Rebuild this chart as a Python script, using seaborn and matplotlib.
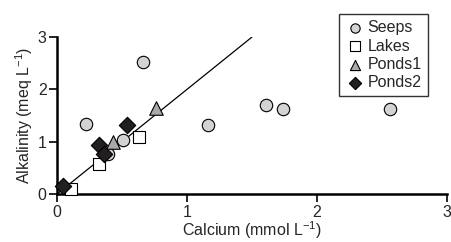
import matplotlib
matplotlib.use("Agg")
import matplotlib.pyplot as plt
import numpy as np
import pandas as pd
import seaborn as sns

# --- data ---
seeps_ca = [0.22, 0.66, 0.51, 0.39, 1.16, 1.61, 1.74, 2.56]
seeps_alk = [1.34, 2.52, 1.03, 0.76, 1.32, 1.70, 1.62, 1.62]
lakes_ca = [0.63, 0.32, 0.11]
lakes_alk = [1.09, 0.58, 0.10]
ponds1_ca = [0.76, 0.43]
ponds1_alk = [1.64, 1.00]
ponds2_ca = [0.54, 0.32, 0.36, 0.05]
ponds2_alk = [1.32, 0.93, 0.76, 0.15]
line_ca = [0.0, 1.5]
line_alk = [0.0, 3.0]

groups = ["Seeps", "Lakes", "Ponds1", "Ponds2"]
df = pd.DataFrame({
    "Calcium": seeps_ca + lakes_ca + ponds1_ca + ponds2_ca,
    "Alkalinity": seeps_alk + lakes_alk + ponds1_alk + ponds2_alk,
    "Site": (["Seeps"] * len(seeps_ca) + ["Lakes"] * len(lakes_ca)
             + ["Ponds1"] * len(ponds1_ca) + ["Ponds2"] * len(ponds2_ca)),
})

palette = {"Seeps": "#d1d3d4", "Lakes": "#ffffff",
           "Ponds1": "#a7a9ac", "Ponds2": "#231f20"}
markers = {"Seeps": "o", "Lakes": "s", "Ponds1": "^", "Ponds2": "D"}
sizes = {"Seeps": 80, "Lakes": 75, "Ponds1": 95, "Ponds2": 70}

sns.set_style("ticks")
plt.rcParams["font.family"] = ["Liberation Sans", "DejaVu Sans"]

fig = plt.figure(figsize=(4.52, 2.42), dpi=100)
ax = fig.add_axes([0.126, 0.198, 0.863, 0.649])

ax.plot(line_ca, line_alk, color="black", lw=0.9, zorder=1)

for g in groups:
    sub = df[df["Site"] == g]
    sns.scatterplot(data=sub, x="Calcium", y="Alkalinity", ax=ax,
                    marker=markers[g], color=palette[g], s=sizes[g],
                    edgecolor="black", linewidth=0.8, label=g,
                    clip_on=False, zorder=3)

ax.set_xlim(0, 3)
ax.set_ylim(0, 3)
ax.set_xticks([0, 1, 2, 3])
ax.set_yticks([0, 1, 2, 3])
ax.tick_params(direction="out", length=6, width=1.2, labelsize=11.5,
               pad=1.5, color="black")
for side in ["left", "bottom"]:
    ax.spines[side].set_linewidth(1.8)
    ax.spines[side].set_color("black")
sns.despine(ax=ax)

ax.set_xlabel("Calcium (mmol L$^{\\mathregular{-1}}$)", fontsize=11.5, labelpad=0)
ax.set_ylabel("Alkalinity (meq L$^{\\mathregular{-1}}$)", fontsize=11.5, labelpad=2)

leg = ax.legend(loc="upper right", bbox_to_anchor=(0.951, 1.146),
                fontsize=11.5, frameon=True, fancybox=False,
                handletextpad=0.15, labelspacing=0.2, borderpad=0.4,
                handlelength=1.2, borderaxespad=0, markerscale=0.75)
leg.get_frame().set_edgecolor("black")
leg.get_frame().set_linewidth(1.0)

fig.savefig("out.png", dpi=100)
